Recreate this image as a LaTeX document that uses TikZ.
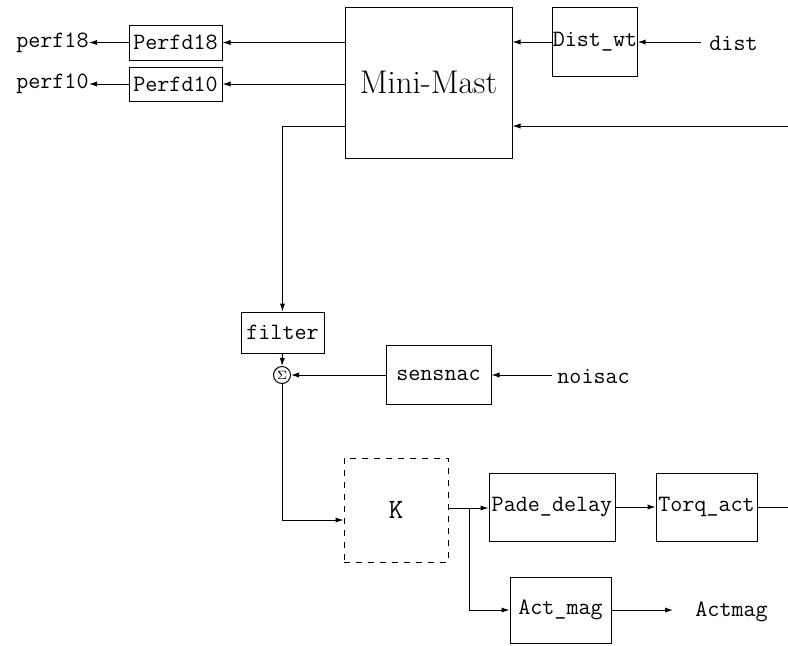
\documentclass[tikz,border=0pt]{standalone}
\usetikzlibrary{arrows.meta}
\begin{document}
\begin{tikzpicture}[
  x=0.5pt, y=-0.5pt,
  font=\fontsize{11.7}{14}\selectfont\ttfamily,
  blk/.style={draw, line width=0.5pt, inner sep=0pt, align=center},
  lbl/.style={inner sep=0pt},
  wire/.style={line width=0.5pt},
  >={Latex[length=4pt,width=2.6pt]}
]
  \useasboundingbox (0,0) rectangle (788,645);

  % ================= PLANT AND OUTPUTS =================
  \node[blk, minimum width=83.5pt, minimum height=75.5pt,
        font=\fontsize{16.4}{19}\selectfont\rmfamily] (mast) at (428.5,82.5) {Mini-Mast};
  \node[blk, minimum width=42pt, minimum height=34.5pt] (distwt) at (595,42) {Dist\_wt};
  \node[lbl, anchor=west] (dist) at (709,43) {dist};
  \coordinate (rin) at (788,126);

  \node[blk, minimum width=46.5pt, minimum height=17.5pt] (pd18) at (175.5,42.5) {Perfd18};
  \node[blk, minimum width=46.5pt, minimum height=17pt] (pd10) at (175.5,84) {Perfd10};
  \node[lbl, anchor=east] (perf18) at (89,43) {perf18};
  \node[lbl, anchor=east] (perf10) at (89,84) {perf10};

  \draw[wire, ->] (mast.west |- pd18.east) -- (pd18.east);
  \draw[wire, ->] (mast.west |- pd10.east) -- (pd10.east);
  \draw[wire, ->] (pd18.west) -- (perf18.east |- pd18.west);
  \draw[wire, ->] (pd10.west) -- (perf10.east |- pd10.west);
  \draw[wire, ->, shorten <=4pt] (dist.west |- distwt.east) -- (distwt.east);
  \draw[wire, ->] (distwt.west) -- (distwt.west -| mast.east);
  \draw[wire, ->] (rin) -- (rin -| mast.east);

  % ================= MEASUREMENT =================
  \node[blk, minimum width=41.5pt, minimum height=20.5pt] (filt) at (282.5,332.5) {filter};
  \node[circle, draw, line width=0.5pt, inner sep=0pt, minimum size=8.5pt,
        font=\fontsize{6}{6}\selectfont\rmfamily] (sum) at (282,375) {$\Sigma$};
  \node[blk, minimum width=52.5pt, minimum height=29.5pt] (sens) at (438.5,375) {sensnac};
  \node[lbl, anchor=west] (noise) at (557,377) {noisac};

  \draw[wire, ->] ([yshift=-21.75pt]mast.west) -| (filt.north);
  \draw[wire, ->] (filt.south) -- (sum.north);
  \draw[wire, ->, shorten <=2.5pt] (noise.west |- sens.east) -- (sens.east);
  \draw[wire, ->] (sens.west) -- (sum.east);

  % ================= CONTROLLER AND ACTUATOR =================
  \node[blk, dashed, minimum width=52pt, minimum height=52pt,
        font=\fontsize{14}{16}\selectfont\ttfamily] (K) at (396,510) {K};
  \node[blk, minimum width=63pt, minimum height=34pt] (pade) at (552,507) {Pade\_delay};
  \node[blk, minimum width=50.5pt, minimum height=34pt] (torq) at (706.5,507) {Torq\_act};
  \node[blk, minimum width=50.5pt, minimum height=33pt] (amag) at (560.5,610) {Act\_mag};
  \node[lbl, anchor=west] (amout) at (695,612) {Actmag};
  \coordinate (br) at (469,508);
  \coordinate (tout) at (788,508);

  \draw[wire, ->] (sum.south) |- ([yshift=-5pt]K.west);
  \draw[wire] (K.east |- br) -- (br);
  \draw[wire, ->] (br) -- (pade.west |- br);
  \draw[wire, ->] (br) |- (amag.west);
  \draw[wire, ->] (pade.east) -- (torq.west);
  \draw[wire] (torq.east) -- (torq.east -| tout);
  \draw[wire, ->, shorten >=11pt] (amag.east) -- (amag.east -| amout.west);
\end{tikzpicture}
\end{document}
